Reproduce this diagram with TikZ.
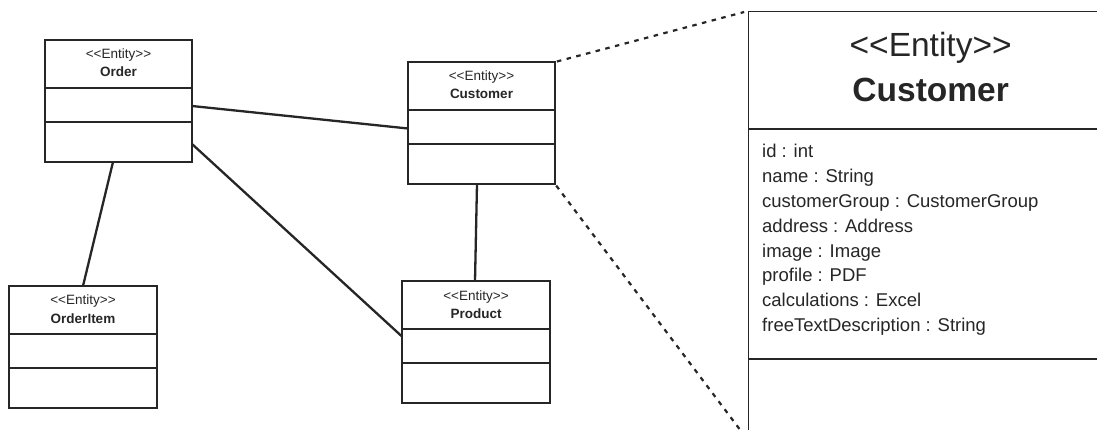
\documentclass[tikz,border=0pt]{standalone}
\usepackage{fontspec}
\setmainfont{Liberation Sans}
\usetikzlibrary{calc}
\definecolor{ink}{HTML}{262626}
% stereotype text, kerns keep << and >> from turning into guillemets
\newcommand\entitystereo{<\kern0pt<Entity>\kern0pt>}
\tikzset{
  cls/.style={draw=ink, line width=2pt, fill=white, inner sep=0pt, outer sep=0pt,
              anchor=north west, minimum height=122pt},
  stereo/.style={font=\fontsize{13.5}{15}\selectfont, text=ink, inner sep=0pt, anchor=base},
  cname/.style={font=\fontsize{13.5}{15}\selectfont\bfseries, text=ink, inner sep=0pt, anchor=base},
  divider/.style={draw=ink, line width=2pt},
  assoc/.style={draw=ink, line width=2.3pt},
  zoomline/.style={draw=ink, line width=2.2pt, dash pattern=on 4.5pt off 5.5pt},
  attr/.style={font=\fontsize{18.5}{22}\selectfont, text=ink, inner sep=0pt, anchor=base west},
}
% a small entity class: name, x, y, width, class name
\newcommand\umlclass[5]{%
  \node[cls, minimum width=#4] (#1) at (#2,#3) {};
  \node[stereo] (#1-st) at ([yshift=-19pt]#1.north) {\entitystereo};
  \node[cname] (#1-nm) at ([yshift=-37pt]#1.north) {#5};
  \draw[divider] ([yshift=-48pt]#1.north west) -- ([yshift=-48pt]#1.north east);
  \draw[divider] ([yshift=-82pt]#1.north west) -- ([yshift=-82pt]#1.north east);
}
\begin{document}
\begin{tikzpicture}[x=1pt,y=-1pt]
\useasboundingbox (0,0) rectangle (1097,430);
\fill[white] (0,0) rectangle (1097,430);
\clip (0,0) rectangle (1097,430);

% overview classes
\umlclass{order}{45}{40}{147pt}{Order}
\umlclass{customer}{408}{62}{147pt}{Customer}
\umlclass{orderitem}{9}{286}{148pt}{OrderItem}
\umlclass{product}{402}{281}{148pt}{Product}

% enlarged Customer class
\node[draw=ink, line width=1.3pt, fill=white, inner sep=0pt, anchor=north west,
      minimum width=364pt, minimum height=428pt] (detail) at (748,11) {};
\draw[ink, line width=1.3pt] ([yshift=-118pt]detail.north west) -- ([yshift=-118pt]detail.north east);
\draw[ink, line width=1.3pt] ([yshift=-348pt]detail.north west) -- ([yshift=-348pt]detail.north east);
\node[anchor=base, inner sep=0pt, text=ink, font=\fontsize{33.5}{40}\selectfont]
  (detail-st) at ([yshift=-46pt]detail.north) {\entitystereo};
\node[anchor=base, inner sep=0pt, text=ink, font=\fontsize{33.5}{40}\selectfont\bfseries]
  (detail-nm) at ([yshift=-91pt]detail.north) {Customer};
\foreach \t [count=\i from 0] in {id : int, name : String,
    customerGroup : CustomerGroup, address : Address, image : Image,
    profile : PDF, calculations : Excel, freeTextDescription : String}
  \node[attr] (attr\i) at ($(detail.north west)+(14,147+24.8*\i)$) {\t};

% associations
\draw[assoc] ([yshift=-5pt]order.east) -- ([yshift=-5.5pt]customer.west);
\draw[assoc] ([yshift=-43pt]order.east) -- ([yshift=5.5pt]product.west);
\draw[assoc] ([xshift=-5.5pt]order.south) -- (orderitem.north);
\draw[assoc] ([xshift=-4.5pt]customer.south) -- ([xshift=-1pt]product.north);

% zoom guides
\draw[zoomline, shorten <=2pt, shorten >=4pt] (customer.north east) -- (detail.north west);
\draw[zoomline, shorten <=2pt, shorten >=4pt] (customer.south east) -- (detail.south west);
\end{tikzpicture}
\end{document}
